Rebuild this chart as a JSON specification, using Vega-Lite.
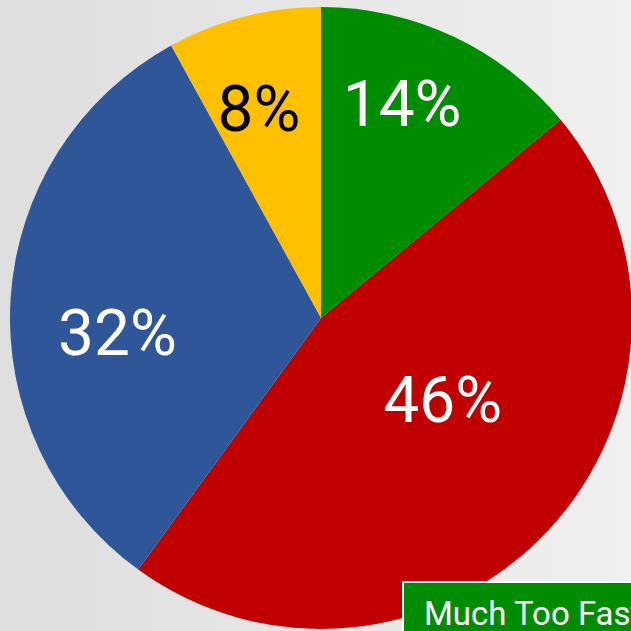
{
  "$schema": "https://vega.github.io/schema/vega-lite/v6.json",
  "width": 620,
  "height": 626,
  "autosize": {"type": "none"},
  "padding": {"left": 11, "top": 5, "right": 0, "bottom": 0},
  "background": "#dedede",
  "config": {"view": {"stroke": null}, "legend": {"strokeWidth": 2}},
  "data": {
    "values": [
      {"category": "Much Too Fast", "percent": 14, "rank": 1, "label": "14%"},
      {"category": "Too Fast", "percent": 46, "rank": 2, "label": "46%"},
      {"category": "About Right", "percent": 32, "rank": 3, "label": "32%"},
      {"category": "Too Slow", "percent": 8, "rank": 4, "label": "8%"}
    ]
  },
  "layer": [
    {
      "mark": {
        "type": "rect",
        "color": {
          "gradient": "linear", "x1": 0, "y1": 0, "x2": 1, "y2": 0,
          "stops": [{"offset": 0, "color": "#dedede"}, {"offset": 1, "color": "#f0f0f0"}]
        }
      },
      "encoding": {
        "x": {"value": -11},
        "x2": {"value": 620},
        "y": {"value": -5},
        "y2": {"value": 626}
      }
    },
    {
      "mark": {"type": "arc", "outerRadius": 311},
      "encoding": {
        "theta": {"field": "percent", "type": "quantitative", "stack": true},
        "order": {"field": "rank", "type": "quantitative", "sort": "ascending"},
        "color": {
          "field": "category", "type": "nominal",
          "scale": {
            "domain": ["Much Too Fast", "Too Fast", "About Right", "Too Slow"],
            "range": ["#008c00", "#c00000", "#30569a", "#ffc000"]
          },
          "legend": {
            "values": ["Much Too Fast"],
            "orient": "none",
            "legendX": 392,
            "legendY": 577,
            "title": null,
            "fillColor": "#008c00",
            "strokeColor": "#ffffff",
            "padding": 16,
            "symbolSize": 0,
            "symbolOpacity": 0,
            "symbolStrokeWidth": 0,
            "labelOffset": -28,
            "labelColor": "#ffffff",
            "labelFont": "Roboto",
            "labelFontSize": 33,
            "labelLimit": 400
          }
        }
      }
    },
    {
      "mark": {"type": "text", "radius": 228, "font": "Roboto", "fontSize": 64, "color": "#ffffff", "dx": -16, "dy": -5, "baseline": "middle", "align": "center"},
      "encoding": {
        "theta": {"field": "percent", "type": "quantitative", "stack": true},
        "order": {"field": "rank", "type": "quantitative", "sort": "ascending"},
        "text": {"condition": {"test": "datum.category === 'Much Too Fast'", "field": "label"}, "value": ""}
      }
    },
    {
      "mark": {"type": "text", "radius": 145, "font": "Roboto", "fontSize": 64, "color": "#ffffff", "dx": 16, "dy": -14, "baseline": "middle", "align": "center"},
      "encoding": {
        "theta": {"field": "percent", "type": "quantitative", "stack": true},
        "order": {"field": "rank", "type": "quantitative", "sort": "ascending"},
        "text": {"condition": {"test": "datum.category === 'Too Fast'", "field": "label"}, "value": ""}
      }
    },
    {
      "mark": {"type": "text", "radius": 202, "font": "Roboto", "fontSize": 64, "color": "#ffffff", "dx": -2, "dy": 31, "baseline": "middle", "align": "center"},
      "encoding": {
        "theta": {"field": "percent", "type": "quantitative", "stack": true},
        "order": {"field": "rank", "type": "quantitative", "sort": "ascending"},
        "text": {"condition": {"test": "datum.category === 'About Right'", "field": "label"}, "value": ""}
      }
    },
    {
      "mark": {"type": "text", "radius": 217, "font": "Roboto", "fontSize": 64, "color": "#000000", "dx": -8, "dy": 4, "baseline": "middle", "align": "center"},
      "encoding": {
        "theta": {"field": "percent", "type": "quantitative", "stack": true},
        "order": {"field": "rank", "type": "quantitative", "sort": "ascending"},
        "text": {"condition": {"test": "datum.category === 'Too Slow'", "field": "label"}, "value": ""}
      }
    }
  ]
}
